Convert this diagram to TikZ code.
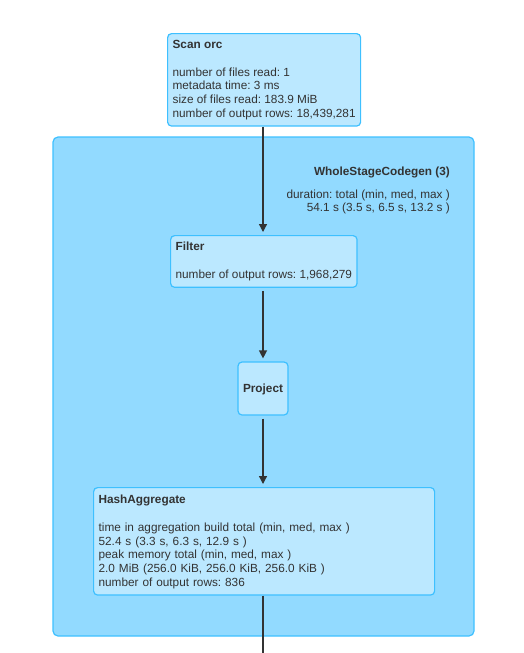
\documentclass[tikz,border=0pt]{standalone}
\usepackage{fontspec}
\setmainfont{Liberation Sans}
\usetikzlibrary{arrows.meta}
\definecolor{stagefill}{RGB}{146,218,255}
\definecolor{opfill}{RGB}{187,232,255}
\definecolor{opline}{RGB}{62,192,255}
\definecolor{ink}{RGB}{51,51,51}
\frenchspacing
\begin{document}
\begin{tikzpicture}[x=1pt, y=-1pt,
    operator/.style ={rectangle, rounded corners=4pt, draw=opline, line width=1.2pt, fill=opfill,
      text=ink, align=left, inner xsep=5pt, inner ysep=6.5pt, anchor=north west,
      font=\fontsize{11.8}{13.7}\selectfont, execute at begin node=\rule{0pt}{9.5pt}},
    stage/.style ={rounded corners=5pt, draw=opline, line width=1.2pt, fill=stagefill},
    flow/.style ={draw=ink, line width=1.3pt, -{Triangle[width=8pt,length=8pt]}}]
   \useasboundingbox (0,0) rectangle (524,653);
   \draw[stage] (53,137) rectangle (474,636);
   \node[anchor=north east, align=right, text=ink, inner sep=0pt,
     font=\fontsize{11.8}{13}\selectfont] (L) at (450,166.5)
     {\textbf{WholeStageCodegen (3)}\\[10pt]duration: total (min, med, max )\\54.1 s (3.5 s, 6.5 s, 13.2 s )};

   \node[operator] (S) at (167,33) {\textbf{Scan orc}\\[14pt]number of files read: 1\\metadata time: 3 ms\\size of files read: 183.9 MiB\\number of output rows: 18,439,281};
   \node[operator] (F) at (170,235) {\textbf{Filter}\\[14pt]number of output rows: 1,968,279};
   \node[operator, anchor=center, align=center, minimum width=50pt, minimum height=53pt] (P) at (263,388.5) {\textbf{Project}};
   \node[operator, text width=331pt] (H) at (93,487) {\textbf{HashAggregate}\\[14pt]time in aggregation build total (min, med, max )\\52.4 s (3.3 s, 6.3 s, 12.9 s )\\peak memory total (min, med, max )\\2.0 MiB (256.0 KiB, 256.0 KiB, 256.0 KiB )\\number of output rows: 836};
   \coordinate (O) at (263,653);

   \draw[flow, shorten >=3pt] (S.south -| P) -- (F.north -| P);
   \draw[flow, shorten >=3pt, shorten <=3pt] (F.south -| P) -- (P.north);
   \draw[flow, shorten >=3pt, shorten <=3pt] (P.south) -- (H.north -| P);
   \draw[draw=ink, line width=1.3pt] (H.south -| P) -- (O);
 \end{tikzpicture}
\end{document}
